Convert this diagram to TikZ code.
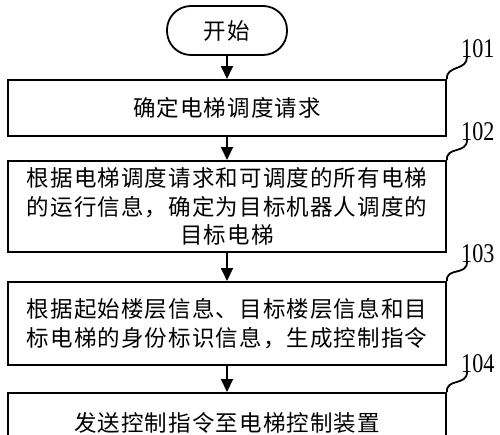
\documentclass[tikz,border=0pt]{standalone}
\usepackage{fontspec}
\newfontfamily\cjk[LetterSpace=5]{Noto Sans CJK SC}
\newfontfamily\numf[FakeStretch=0.82]{Liberation Serif}
\usetikzlibrary{arrows.meta}
\begin{document}
\begin{tikzpicture}[x=1pt,y=-1pt,
  txt/.style={font=\cjk\fontsize{22.5}{28.7}\selectfont},
  stepbox/.style={txt, draw, line width=1.8pt, minimum width=438pt, anchor=north, inner sep=0pt, align=center},
  term/.style={txt, draw, line width=1.8pt, minimum width=120pt, minimum height=49pt, rounded corners=24pt, inner sep=0pt},
  arr/.style={line width=1.8pt, -{Triangle[width=12pt,length=13pt]}},
  sq/.style={line width=1.8pt},
  num/.style={font=\numf\fontsize{27}{27}\selectfont, anchor=base west, inner sep=0pt}
]
\useasboundingbox (0,0) rectangle (500,434);
\clip (0,0) rectangle (500,434);

\node[term] (s) at (227,30.5) {开始};
\node[stepbox, minimum height=56pt] (b1) at (227,79) {确定电梯调度请求};
\node[stepbox, minimum height=91pt] (b2) at (227,160) {根据电梯调度请求和可调度的所有电梯\\的运行信息，确定为目标机器人调度的\\目标电梯};
\node[stepbox, minimum height=83pt] (b3) at (227,281) {根据起始楼层信息、目标楼层信息和目\\标电梯的身份标识信息，生成控制指令};
\node[stepbox, minimum height=60pt] (b4) at (227,392) {发送控制指令至电梯控制装置};

\draw[arr] (s) -- (b1);
\draw[arr] (b1) -- (b2);
\draw[arr] (b2) -- (b3);
\draw[arr] (b3) -- (b4);

\node[num] (l1) at (461,57) {101};
\node[num] (l2) at (461,140) {102};
\node[num] (l3) at (461,262) {103};
\node[num] (l4) at (461,372) {104};

\coordinate (e1) at (467,57);
\coordinate (e2) at (467,140);
\coordinate (e3) at (467,262);
\coordinate (e4) at (467,372);

\draw[sq] (b1.north east) .. controls (446,65) and (467,71) .. (e1);
\draw[sq] (b2.north east) .. controls (446,146) and (467,154) .. (e2);
\draw[sq] (b3.north east) .. controls (446,267) and (467,276) .. (e3);
\draw[sq] (b4.north east) .. controls (446,378) and (467,386) .. (e4);
\end{tikzpicture}
\end{document}
